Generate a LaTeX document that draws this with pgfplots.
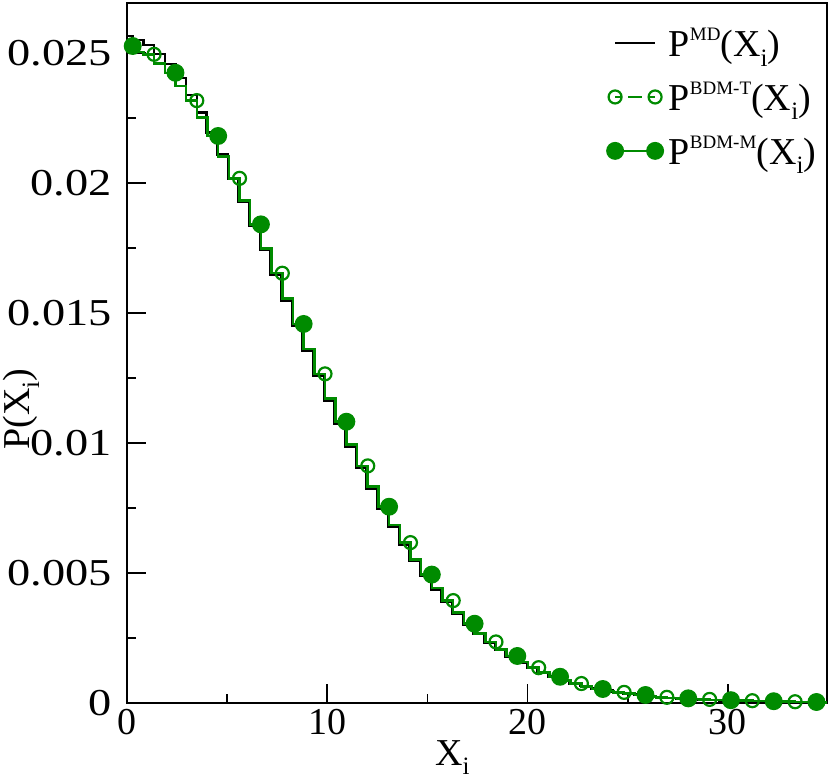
\documentclass[border=0pt]{standalone}
\usepackage{fontspec}
\setmainfont{Liberation Serif}
\usepackage{pgfplots}
\pgfplotsset{compat=1.18}
\usepackage{pgfplotstable}
\definecolor{mygreen}{RGB}{0,139,0}

\pgfplotstableread{
x y
-0.248 0.02528
0.285 0.02528
0.818 0.02505
1.352 0.02496
1.885 0.02461
2.419 0.02425
2.952 0.02375
3.485 0.02318
4.019 0.02253
4.552 0.02182
5.086 0.02103
5.619 0.02019
6.152 0.01933
6.686 0.01842
7.219 0.01750
7.753 0.01654
8.286 0.01557
8.819 0.01459
9.353 0.01363
9.886 0.01267
10.420 0.01173
10.953 0.01083
11.486 0.00996
12.020 0.00913
12.553 0.00833
13.087 0.00756
13.620 0.00685
14.153 0.00618
14.687 0.00554
15.220 0.00495
15.754 0.00443
16.287 0.00395
16.820 0.00349
17.354 0.00306
17.887 0.00269
18.421 0.00236
18.954 0.00207
19.487 0.00182
20.021 0.00158
20.554 0.00137
21.088 0.00118
21.621 0.00102
22.154 0.00088
22.688 0.00076
23.221 0.00065
23.755 0.00055
24.288 0.00048
24.821 0.00042
25.355 0.00037
25.888 0.00032
26.422 0.00027
26.955 0.00023
27.488 0.00021
28.022 0.00019
28.555 0.00017
29.089 0.00015
29.622 0.00013
30.155 0.00012
30.689 0.00011
31.222 0.00010
31.756 0.00009
32.289 0.00008
32.822 0.00007
33.356 0.00006
33.889 0.00005
34.423 0.00005
34.956 0.00004
}\greendata

\pgfplotstableread{
x y
-0.248 0.02567
0.285 0.02567
0.818 0.02551
1.352 0.02532
1.885 0.02497
2.419 0.02458
2.952 0.02404
3.485 0.02340
3.969 0.02272
4.502 0.02196
5.036 0.02110
5.569 0.02018
6.102 0.01928
6.636 0.01836
7.169 0.01743
7.703 0.01647
8.236 0.01549
8.769 0.01451
9.303 0.01355
9.836 0.01259
10.370 0.01165
10.903 0.01075
11.436 0.00988
11.970 0.00905
12.503 0.00825
13.037 0.00749
13.570 0.00678
14.103 0.00611
14.637 0.00548
15.170 0.00489
15.704 0.00438
16.237 0.00390
16.770 0.00345
17.304 0.00302
17.837 0.00266
18.371 0.00233
18.904 0.00205
19.437 0.00180
19.971 0.00157
20.504 0.00137
21.038 0.00119
21.571 0.00103
22.104 0.00089
22.638 0.00077
23.171 0.00066
23.705 0.00056
24.238 0.00049
24.771 0.00043
25.305 0.00038
25.838 0.00033
26.372 0.00028
26.905 0.00024
27.438 0.00021
27.972 0.00018
28.505 0.00016
29.039 0.00014
29.572 0.00012
30.105 0.00010
30.639 0.00009
31.172 0.00008
31.706 0.00007
32.239 0.00006
32.772 0.00005
33.306 0.00004
33.839 0.00004
34.373 0.00003
34.956 0.00003
}\blackdata

\newcommand{\subx}[1]{\raisebox{-0.25em}{\fontsize{25}{25}\selectfont #1}}
\newcommand{\supx}[1]{\raisebox{0.42em}{\fontsize{19}{19}\selectfont #1}}
\newcommand{\wy}[1]{\scalebox{1.22}[1]{#1}}

\begin{document}
\begin{tikzpicture}
\begin{axis}[
  scale only axis,
  width=700pt, height=700.6pt,
  xmin=0, xmax=34.95,
  ymin=0, ymax=0.026946,
  clip mode=individual,
  axis line style={line width=1.8pt},
  every tick/.style={line width=1.8pt, black},
  tick align=inside,
  tick pos=left,
  major tick length=19pt,
  minor tick length=9pt,
  xtick={0,10,20,30},
  xticklabels={0,10,20,30},
  minor x tick num=1,
  ytick={0,0.005,0.01,0.015,0.02,0.025},
  yticklabels={\wy{0},\wy{0.005},\wy{0.01},\wy{0.015},\wy{0.02},\wy{0.025}},
  minor y tick num=1,
  scaled y ticks=false,
  tick label style={font=\fontsize{38}{40}\selectfont},
  xticklabel style={inner sep=0pt, yshift=-6pt},
  yticklabel style={inner sep=0pt, xshift=-15pt},
  xlabel={X\subx{i}},
  ylabel={P(X\subx{i})},
  label style={font=\fontsize{38}{40}\selectfont, inner sep=0pt},
  xlabel style={at={(axis description cs:0.465,0)}, anchor=north, yshift=-37pt},
  ylabel style={at={(axis description cs:-0.151,0.42)}, anchor=center},
  legend style={at={(axis description cs:0.686,0.964)}, anchor=north west,
    draw=none, fill=none, inner sep=0pt, row sep=24pt, column sep=6pt,
    font=\fontsize{38}{40}\selectfont,
    nodes={inner sep=0pt}},
  legend cell align=left,
  legend image code/.code={\draw[#1, mark repeat=1, mark phase=1] plot coordinates {(0pt,0pt) (40pt,0pt)};},
]
\addplot[black, line width=2.5pt, const plot mark right] table {\blackdata};
\addlegendentry{P\supx{MD}(X\subx{i})}
\addplot[mygreen, line width=2.5pt, const plot mark right, dash pattern=on 6pt off 7pt on 14pt off 7pt,
  mark=o, mark size=6.5pt, mark repeat=4, mark phase=3, mark options={solid, line width=2.2pt}] table {\greendata};
\addlegendentry{P\supx{BDM-T}(X\subx{i})}
\addplot[mygreen, line width=2.5pt, const plot mark right,
  mark=*, mark size=7.7pt, mark repeat=4, mark phase=1, mark options={solid}] table {\greendata};
\addlegendentry{P\supx{BDM-M}(X\subx{i})}
\end{axis}
\pgfresetboundingbox
\path[use as bounding box] (-127pt,-77.7pt) rectangle (703pt,703.3pt);
\end{tikzpicture}
\end{document}
